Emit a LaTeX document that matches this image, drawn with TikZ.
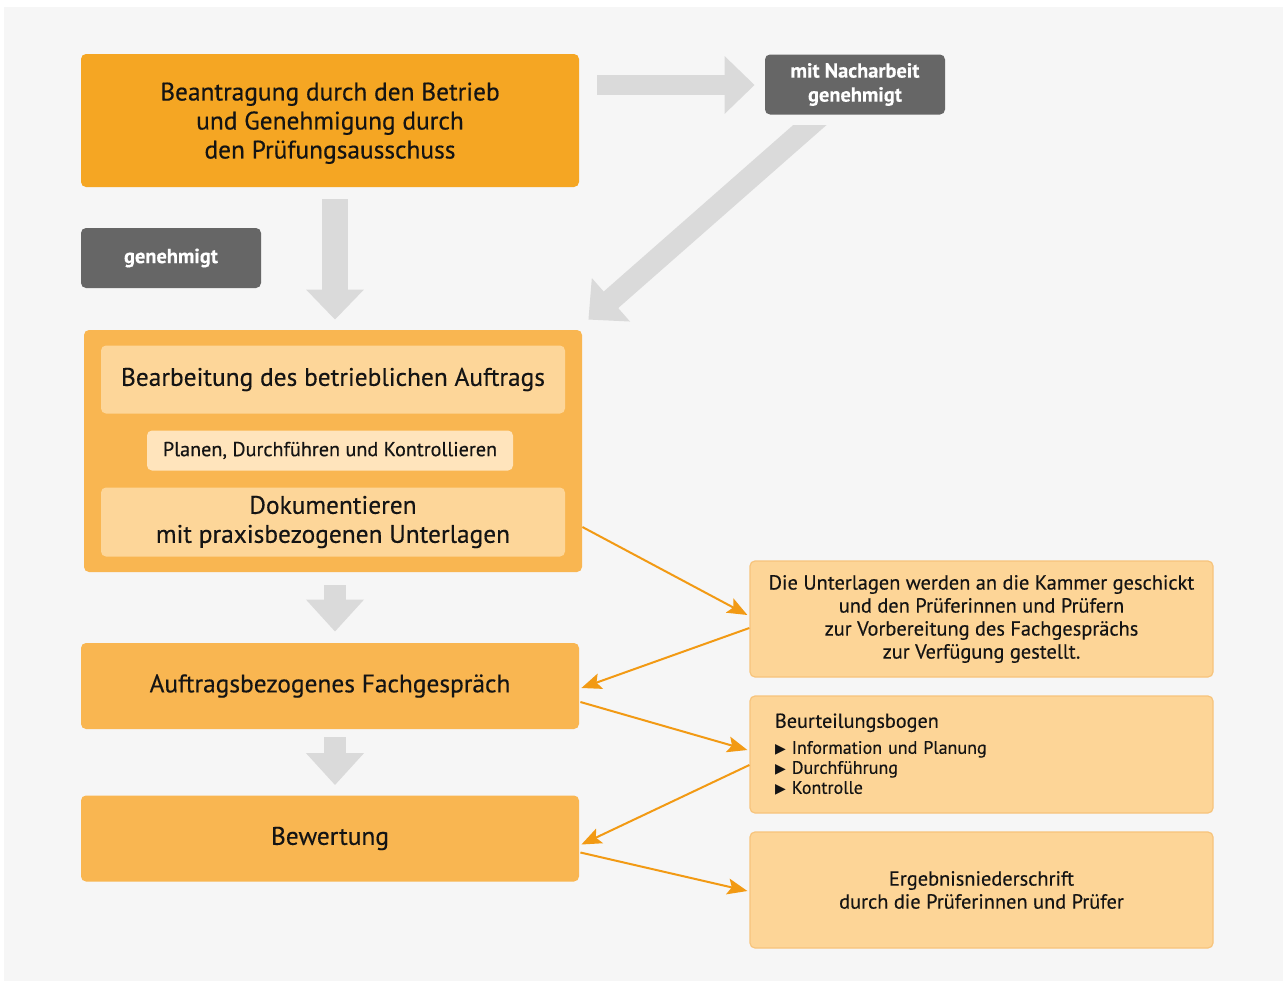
\documentclass[tikz,border=0pt]{standalone}
\usepackage{fontspec}
\setmainfont{PT Sans}[FakeBold=0.35]
\newfontfamily\symfont{DejaVu Sans}
\usetikzlibrary{arrows.meta,calc}
\definecolor{bgc}{HTML}{F6F6F6}
\definecolor{topor}{HTML}{F5A623}
\definecolor{midor}{HTML}{F9B651}
\definecolor{innor}{HTML}{FDD699}
\definecolor{pale}{HTML}{FFE4BC}
\definecolor{rightor}{HTML}{FDD597}
\definecolor{rightbd}{HTML}{F7C47C}
\definecolor{dgrey}{HTML}{666666}
\definecolor{agrey}{HTML}{DADADA}
\definecolor{conn}{HTML}{F29A14}
\definecolor{txt}{HTML}{141414}
\tikzset{
  basebox/.style={rectangle, rounded corners=2.5pt, inner sep=0pt, align=center, text=txt},
  topbox/.style={basebox, fill=topor, minimum width=249pt, minimum height=66.5pt, font=\fontsize{12.7}{14.5}\selectfont},
  midbox/.style={basebox, fill=midor, minimum width=249pt, minimum height=43pt, font=\fontsize{12.7}{14.5}\selectfont},
  innbox/.style={basebox, fill=innor, minimum width=232pt, font=\fontsize{12.7}{14.5}\selectfont},
  palebox/.style={basebox, fill=pale, minimum width=183pt, minimum height=20pt, font=\fontsize{10.1}{11}\selectfont},
  greybox/.style={basebox, fill=dgrey, text=white, minimum width=90pt, minimum height=30pt, font=\bfseries\fontsize{10.2}{12}\selectfont},
  rbox/.style={basebox, fill=rightor, draw=rightbd, line width=0.6pt, minimum width=231.5pt, font=\fontsize{10.2}{11.5}\selectfont},
  garrow/.style={draw=agrey, line width=#1, -{Triangle[length=15pt,width=28pt,fill=agrey]}},
  oarrow/.style={draw=conn, line width=1pt, -{Stealth[length=10pt,width=8pt,inset=2pt,fill=conn]}},
}
\newcommand{\tri}{{\symfont\fontsize{7}{7}\selectfont ▶}\hspace{3pt}}
\begin{document}
\begin{tikzpicture}[x=0.5pt,y=-0.5pt]
\useasboundingbox (0,0) rectangle (1287,985);
\fill[white] (0,0) rectangle (1287,985);
\fill[bgc] (4,7) rectangle (1283,981);

% left column
\node[topbox, text depth=0pt] (top) at (330,120.5) {Beantragung durch den Betrieb\\und Genehmigung durch\\den Prüfungsausschuss};
\node[greybox] (nach) at (855,84.5) {mit Nacharbeit\\genehmigt};
\node[greybox] (gen) at (171,258) {genehmigt};

\node[basebox, fill=midor, minimum width=249pt, minimum height=121pt] (big) at (333,451) {};
\node[innbox, minimum height=34pt] (bearb) at (333,379.5) {Bearbeitung des betrieblichen Auftrags};
\node[palebox] (plan) at (330,450.5) {Planen, Durchführen und Kontrollieren};
\node[innbox, minimum height=34.5pt] (doku) at (333,522) {Dokumentieren\\mit praxisbezogenen Unterlagen};

\node[midbox] (fach) at (330,686) {Auftragsbezogenes Fachgespräch};
\node[midbox] (bew) at (330,838.5) {Bewertung};

% right column
\node[rbox, minimum height=58pt] (unt) at (981.5,619) {Die Unterlagen werden an die Kammer geschickt\\und den Prüferinnen und Prüfern\\zur Vorbereitung des Fachgesprächs\\zur Verfügung gestellt.};
\node[rbox, minimum height=58.5pt, align=left, text width=206.5pt, inner xsep=12.5pt, font=\fontsize{9}{10}\selectfont] (beur) at (981.5,754.5) {{\fontsize{10.1}{10}\selectfont Beurteilungsbogen}\\[3pt]\tri Information und Planung\\\tri Durchführung\\\tri Kontrolle};
\node[rbox, minimum height=58pt] (erg) at (981.5,890) {Ergebnisniederschrift\\durch die Prüferinnen und Prüfer};

% grey arrows
\draw[garrow=13pt] ($(top.south)+(5,12)$) -- ($(big.north)+(2,-10)$);
\draw[garrow=10pt] ($(top.east)+(18,-35.5)$) -- ($(nach.west)+(-10,0.5)$);
\begin{scope}
  \clip (0,125) rectangle (1287,985);
  \draw[garrow=11pt] ($(nach.south)+(-33.6,0)$) -- ($(big.north east)+(6,-10)$);
\end{scope}
\draw[draw=agrey, line width=11pt, -{Triangle[length=16pt,width=28pt,fill=agrey]}] ($(big.south)+(2,13)$) -- ($(fach.north)+(5,-11)$);
\draw[draw=agrey, line width=11pt, -{Triangle[length=16pt,width=28pt,fill=agrey]}] ($(fach.south)+(5,8)$) -- ($(bew.north)+(5,-10)$);

% orange connectors
\draw[oarrow] ($(big.east)+(0,76)$) -- ($(unt.west)+(-2,-4)$);
\draw[oarrow] ($(unt.west)+(0,9)$) -- ($(fach.east)+(2,2)$);
\draw[oarrow] ($(fach.east)+(1,16)$) -- ($(beur.west)+(-2,-4.5)$);
\draw[oarrow] ($(beur.west)+(0,10.5)$) -- ($(bew.east)+(2,6)$);
\draw[oarrow] ($(bew.east)+(1,14)$) -- ($(erg.west)+(-2,1)$);
\end{tikzpicture}
\end{document}
